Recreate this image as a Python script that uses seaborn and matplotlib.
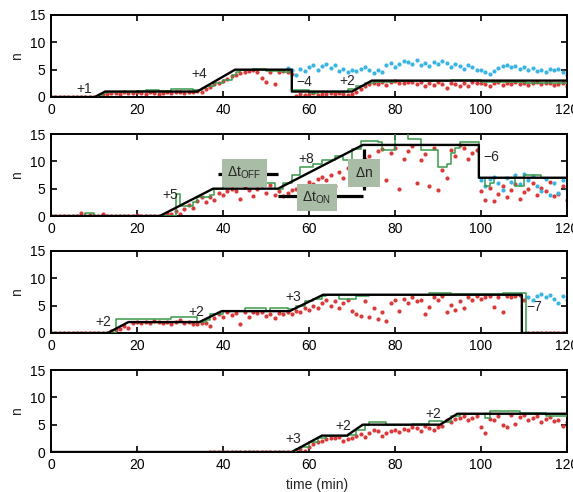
import numpy as np
import pandas as pd
import matplotlib
matplotlib.use("Agg")
import matplotlib.pyplot as plt
import seaborn as sns

# ---- data ----
# black model line: vertices (time, n)
black_t = [
    [0, 10.2, 12.6, 34, 42.8, 56, 56, 70, 74.6, 120],
    [0, 25.3, 37.7, 52.8, 72.5, 99.5, 99.5, 120],
    [0, 13.2, 18, 34.5, 39.7, 55.5, 63.3, 109.5, 109.5, 120],
    [0, 56, 63, 68.8, 72.5, 90.5, 94.5, 120],
]
black_n = [
    [0, 0, 1, 1, 5, 5, 1, 1, 3, 3],
    [0, 0, 5, 5, 13, 13, 7, 7],
    [0, 0, 2, 2, 4, 4, 7, 7, 0, 0],
    [0, 0, 3, 3, 5, 5, 7, 7],
]

# green step line: (time, n) change points
green_t = [
    [0, 11, 12, 13, 20, 22, 25, 28, 30, 33, 35, 36, 38, 40, 42, 43, 44, 47, 50, 54, 56, 60, 62, 66, 69, 71,
     73, 75, 80, 93, 100, 110, 120],
    [0, 8, 10, 29, 30, 33, 34, 37, 38, 40, 52, 54, 56, 58, 61, 63, 66, 68, 70, 72, 76, 77, 80, 83, 86, 90,
     92, 93, 94, 95, 99.5, 101, 102, 103, 108, 110, 114, 120],
    [0, 15, 28, 34, 36, 37, 40, 45, 50, 51, 55, 57, 59, 61, 63, 64, 67, 71, 74, 88, 93, 105, 110.5, 120],
    [0, 57, 58, 60, 62, 64, 69, 71, 73, 74, 78, 84, 88, 91, 93, 95, 101, 102, 109, 115, 120],
]
green_n = [
    [0, 0.3, 0.8, 1.0, 1.1, 1.3, 1.1, 1.4, 1.5, 1.3, 1.6, 2.0, 2.6, 3.2, 4.0, 4.6, 5.0, 5.2, 4.8, 4.6, 1.3,
     0.8, 0.9, 0.9, 1.5, 2.0, 2.6, 2.8, 3.0, 3.1, 2.8, 2.6, 2.6],
    [0, 0.5, 0, 4.0, 1.8, 2.5, 3.5, 3.8, 5.0, 6.0, 5.0, 6.0, 7.5, 9.0, 9.5, 10.3, 11.0, 10.2, 12.3, 13.8,
     13.5, 12.0, 15.5, 14.0, 12.0, 9.0, 9.6, 11.5, 12.5, 13.6, 7.0, 5.5, 6.0, 7.0, 5.5, 7.5, 7.0, 7.0],
    [0, 2.5, 3.0, 2.0, 2.3, 3.5, 4.0, 4.5, 4.0, 4.6, 4.3, 5.0, 5.8, 6.2, 6.8, 7.0, 6.3, 6.8, 6.9, 7.3, 7.2,
     7.3, 0, 0],
    [0, 0.5, 1.0, 1.8, 2.5, 3.0, 3.2, 4.0, 5.0, 5.4, 5.0, 5.2, 5.7, 5.4, 6.5, 7.0, 6.2, 7.5, 7.2, 6.5, 6.5],
]

# red dots: start time, one value per minute
red_start = [0, 0, 0, 37]
red_n = [
    [0, 0, 0, 0, 0, 0, 0, 0, 0, 0,
     0, 0.2, 0.5, 0.5, 0.7, 0.8, 0.6, 0.9, 0.8, 0.7, 0.9, 0.8, 0.6, 0.9, 0.8, 0.5, 0.7, 0.9, 0.8, 1.0,
     0.9, 0.8, 1.0, 0.9, 1.1, 1.0, 1.5, 1.8, 2.3, 2.6, 3.0, 3.3, 3.8, 4.0, 4.3, 4.6, 4.8, 4.9, 4.5, 3.5,
     2.8, 4.6, 2.4, 4.5, 4.8, 4.6, 4.2, 0.2, 0.6, 0.3, 0.5, 0.7, 0.4, 0.6, 0.5, 0.8, 0.6, 0.7, 0.5, 0.3,
     0.5, 1.0, 1.5, 2.0, 2.3, 2.6, 2.4, 2.7, 2.2, 2.8, 2.9, 2.6, 2.5, 2.8, 2.7, 2.3, 2.8, 2.1, 2.6, 2.2,
     2.7, 2.4, 1.7, 2.6, 2.3, 2.0, 2.6, 2.1, 2.8, 2.5, 2.6, 2.3, 2.0, 2.5, 2.7, 2.2, 2.6, 2.4, 2.7, 2.3,
     2.6, 2.2, 2.5, 2.7, 2.3, 2.5, 2.6, 2.2, 2.4, 2.6, 2.0],
    [0, 0, 0, 0, 0, 0, 0, 0.5, 0, 0.2, 0, 0, 0.3, 0, 0, 0, 0, 0, 0, 0, 0.2, 0, 0, 0, 0, 0,
     0.2, 0.5, 0.3, 1.0, 0.4, 1.3, 2.0, 1.5, 2.8, 3.4, 2.6, 3.5, 3.0, 4.2, 3.8, 4.5, 5.0, 4.6, 3.2, 5.3,
     4.8, 3.7, 5.0, 5.6, 4.2, 5.7, 3.8, 4.5, 3.6, 4.2, 4.8, 5.0, 5.5, 4.6, 6.3, 5.8, 6.8, 7.2, 6.5, 7.5,
     5.5, 8.0, 7.0, 8.8, 9.2, 7.5, 9.5, 10.5, 11.0, 9.5, 11.8, 12.2, 6.5, 11.5, 12.5, 5.0, 10.5, 11.8,
     12.8, 6.0, 10.2, 11.3, 5.5, 12.5, 4.8, 8.5, 7.0, 12.0, 11.0, 13.0, 12.4, 10.5, 11.5, 12.0, 4.5, 3.0,
     5.2, 2.8, 4.0, 5.5, 3.5, 4.8, 5.8, 3.2, 4.3, 5.0, 6.0, 3.8, 5.2, 4.5, 6.2, 3.6, 4.0, 5.4, 3.0],
    [0, 0, 0, 0, 0, 0, 0, 0, 0, 0, 0, 0, 0, 0, 0.3, 0.5, 0.8, 1.2, 0.9, 1.9, 2.0, 1.8, 2.1, 1.9, 2.2,
     2.0, 1.8, 2.1, 1.6, 2.0, 2.3, 1.9, 2.0, 1.7, 1.6, 1.8, 1.9, 1.2, 2.8, 3.5, 3.0, 3.8, 3.3, 3.6, 1.7,
     3.8, 3.0, 3.8, 3.7, 3.8, 3.2, 3.5, 2.8, 3.6, 3.4, 3.8, 3.5, 4.0, 3.8, 4.5, 4.2, 5.0, 4.6, 5.5, 6.0,
     5.0, 5.8, 4.5, 5.5, 6.0, 4.0, 3.5, 3.2, 5.8, 3.0, 4.5, 2.5, 3.8, 2.2, 5.5, 6.0, 4.0, 6.2, 5.5, 6.5,
     5.8, 6.0, 3.5, 4.8, 6.5, 6.0, 6.8, 3.8, 5.2, 4.2, 5.8, 4.5, 6.5, 6.0, 6.8, 6.2, 6.5, 6.8, 4.8, 6.5,
     3.8, 6.7, 6.5, 6.8, 7.0, 6.0, 0, 0, 0, 0, 0, 0, 0, 0, 0, 0],
    [0, 0, 0, 0, 0, 0, 0, 0, 0, 0, 0, 0, 0, 0, 0, 0, 0, 0, 0, 0, 0.3, 0.6, 0.2, 1.0, 1.5, 1.8, 2.0,
     2.3, 2.6, 2.5, 2.8, 2.0, 2.4, 2.6, 3.0, 3.3, 2.8, 3.5, 4.0, 3.8, 3.0, 3.5, 3.8, 4.0, 3.6, 4.2, 4.0,
     4.5, 4.3, 3.8, 4.7, 4.4, 4.0, 4.6, 4.8, 5.8, 5.5, 6.0, 6.2, 6.5, 5.8, 6.3, 6.6, 4.5, 3.5, 6.0, 5.8,
     6.6, 5.0, 4.5, 6.8, 5.2, 6.4, 6.8, 5.8, 6.2, 6.6, 5.5, 6.0, 6.4, 5.6, 5.8, 4.8, 5.5],
]

# cyan dots: start time, one value per minute
cyan_start = [55, 100, 111, None]
cyan_n = [
    [5.3, 5.0, 4.0, 5.2, 4.8, 5.5, 5.9, 5.0, 5.6, 6.0, 5.3, 5.8, 4.8, 5.1, 4.5, 5.0, 4.7, 5.2, 5.4, 4.9,
     4.3, 5.0, 4.6, 5.9, 6.3, 5.5, 6.1, 6.5, 6.4, 6.0, 6.8, 5.8, 6.2, 5.6, 6.4, 6.0, 6.6, 6.2, 5.4, 6.1,
     5.7, 5.2, 5.9, 5.4, 5.0, 4.9, 4.5, 4.2, 4.8, 5.3, 5.6, 5.9, 5.4, 5.7, 5.2, 5.5, 5.0, 5.3, 4.8, 5.0,
     4.6, 5.1, 4.9, 5.2, 4.6, 4.0],
    [6.5, 5.5, 6.8, 7.2, 6.0, 4.8, 7.0, 6.2, 7.5, 5.8, 7.6, 6.5, 7.3, 5.5, 4.5, 6.8, 3.8, 6.0, 4.2, 6.6,
     5.0],
    [6.5, 6.0, 6.8, 7.2, 6.5, 7.0, 6.2, 5.5, 6.8, 6.0],
    [],
]

# step labels: (time, n, text)
labels = [
    [(7.7, 1.5, "+1"), (34.4, 4.2, "+4"), (58.8, 2.7, "\u22124"), (69, 3.0, "+2")],
    [(27.7, 3.9, "+5"), (59.3, 10.5, "+8"), (102.3, 10.8, "\u22126")],
    [(12.2, 2.0, "+2"), (33.8, 3.8, "+2"), (56.4, 6.6, "+3"), (112.4, 4.7, "\u22127")],
    [(56.4, 2.4, "+3"), (68, 4.7, "+2"), (89, 7.0, "+2")],
]

RED = "#d93a3a"
CYAN = "#3ab4e2"
GREEN = "#3a9a4a"
BOX = "#a9bca6"
FS = 10

sns.set_theme(style="ticks")
plt.rcParams["font.family"] = ["Liberation Sans", "DejaVu Sans"]
plt.rcParams["mathtext.default"] = "regular"

fig = plt.figure(figsize=(5.73, 4.92), dpi=100)
left, width = 51 / 573, 516 / 573
tops = [15, 134, 251, 370]
height = 82 / 492

for i in range(4):
    ax = fig.add_axes([left, 1 - (tops[i] + 82) / 492, width, height])

    rt = np.arange(len(red_n[i])) + red_start[i]
    sns.scatterplot(x=rt, y=red_n[i], color=RED, s=9, linewidth=0, ax=ax, zorder=2)
    if cyan_start[i] is not None:
        ct = np.arange(len(cyan_n[i])) + cyan_start[i]
        sns.scatterplot(x=ct, y=cyan_n[i], color=CYAN, s=9, linewidth=0, ax=ax, zorder=2)

    sns.lineplot(x=green_t[i], y=green_n[i], color=GREEN, lw=1.1, drawstyle="steps-post",
                 sort=False, estimator=None, ax=ax, zorder=3)
    sns.lineplot(x=black_t[i], y=black_n[i], color="black", lw=1.7,
                 sort=False, estimator=None, ax=ax, zorder=4)

    for tx, ty, s in labels[i]:
        ax.text(tx, ty, s, ha="center", va="center", fontsize=FS, zorder=6)

    if i == 1:
        # Delta t_OFF, Delta t_ON, Delta n markers
        ax.hlines(7.7, 38.9, 52.8, color="black", lw=2.3, zorder=5)
        ax.hlines(3.6, 52.8, 72.5, color="black", lw=2.3, zorder=5)
        ax.vlines(72.8, 4.75, 12.3, color="black", lw=2.3, zorder=5)
        bb = dict(boxstyle="square,pad=0.4", fc=BOX, ec="none")
        ax.text(45, 7.9, r"$\Delta t_{OFF}$", ha="center", va="center", fontsize=FS, bbox=bb, zorder=7)
        ax.text(61.8, 3.4, r"$\Delta t_{ON}$", ha="center", va="center", fontsize=FS, bbox=bb, zorder=7)
        ax.text(72.9, 7.9, r"$\Delta n$", ha="center", va="center", fontsize=FS,
                bbox=dict(boxstyle="square,pad=0.5", fc=BOX, ec="none"), zorder=7)

    ax.set_xlim(0, 120)
    ax.set_ylim(0, 15)
    ax.set_xticks([0, 20, 40, 60, 80, 100, 120])
    ax.set_yticks([0, 5, 10, 15])
    ax.tick_params(direction="in", top=True, right=True, length=4, width=1.2,
                   labelsize=FS, pad=4, colors="black")
    for sp in ax.spines.values():
        sp.set_linewidth(1.4)
        sp.set_color("black")
    ax.set_xlabel("")
    ax.set_ylabel("n", fontsize=FS, labelpad=4)

fig.text(317 / 573, 1 - 485 / 492, "time (min)", ha="center", va="center", fontsize=FS)

fig.savefig("out.png", dpi=100)
